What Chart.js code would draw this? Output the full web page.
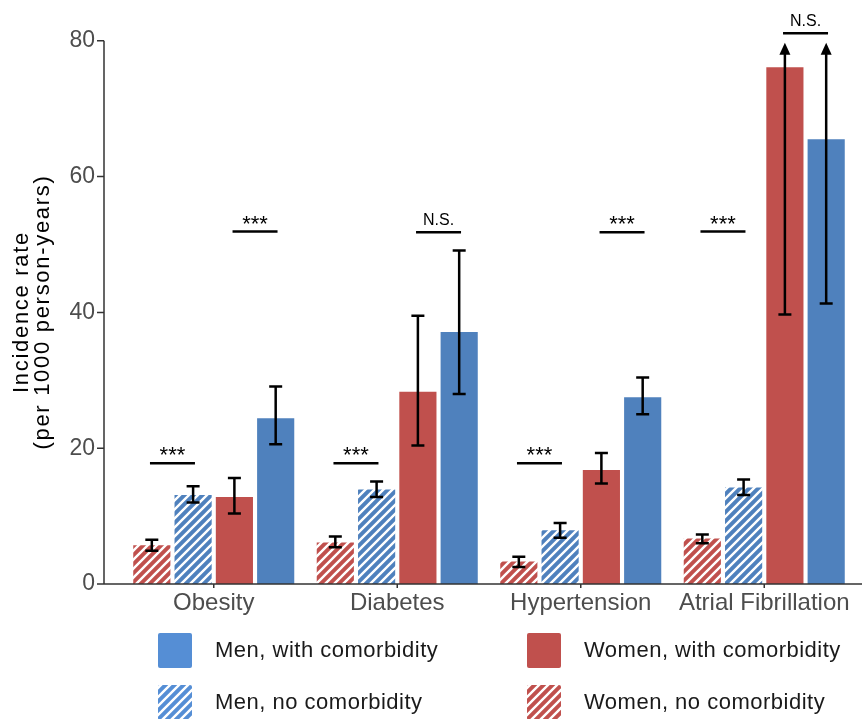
<!DOCTYPE html>
<html>
<head>
<meta charset="utf-8">
<title>Incidence rate by comorbidity</title>
<script src="https://cdn.jsdelivr.net/npm/chart.js@4.4.1/dist/chart.umd.min.js"></script>
<style>
  html, body { margin: 0; padding: 0; background: #fff; }
  #wrap { width: 862px; height: 719px; position: relative; }
</style>
</head>
<body>
<div id="wrap"><canvas id="chart"></canvas></div>
<script>
// Categories and values (per 1000 person-years)
const categories = ['Obesity', 'Diabetes', 'Hypertension', 'Atrial Fibrillation'];

const womenNo = [5.7, 6.1, 3.3, 6.7];
const womenNoLow = [4.9, 5.4, 2.5, 6.0];
const womenNoHigh = [6.5, 7.0, 4.0, 7.3];

const menNo = [13.1, 13.9, 7.9, 14.2];
const menNoLow = [12.0, 12.8, 6.8, 13.1];
const menNoHigh = [14.4, 15.1, 9.0, 15.4];

const womenWith = [12.8, 28.3, 16.8, 76.1];
const womenWithLow = [10.4, 20.4, 14.8, 39.7];
const womenWithHigh = [15.6, 39.5, 19.3, null]; // null = beyond the axis, drawn as arrow

const menWith = [24.4, 37.1, 27.5, 65.5];
const menWithLow = [20.6, 28.0, 25.0, 41.3];
const menWithHigh = [29.1, 49.1, 30.4, null];

const yTicks = [0, 20, 40, 60, 80];

// significance brackets: category, first dataset of the pair, height, label
const bracketCategory = [0, 0, 1, 1, 2, 2, 3, 3];
const bracketPair = [0, 2, 0, 2, 0, 2, 0, 2];
const bracketValue = [17.8, 51.9, 17.8, 51.8, 17.8, 51.8, 51.9, 81.1];
const bracketLabel = ['***', '***', '***', 'N.S.', '***', '***', '***', 'N.S.'];

const legendLabels = ['Men, with comorbidity', 'Women, with comorbidity', 'Men, no comorbidity', 'Women, no comorbidity'];

const RED = '#C0504D';
const BLUE = '#4F81BD';
const LEGEND_BLUE = '#558ED5';
const FONT = '"Liberation Sans", Arial, sans-serif';

// diagonal white stripes on a coloured tile
function makeHatch(color) {
    const s = 9;
    const c = document.createElement('canvas');
    c.width = s; c.height = s;
    const g = c.getContext('2d');
    g.fillStyle = color;
    g.fillRect(0, 0, s, s);
    g.strokeStyle = '#ffffff';
    g.lineWidth = 2.4;
    g.beginPath();
    g.moveTo(-1, 1); g.lineTo(1, -1);
    g.moveTo(0, s); g.lineTo(s, 0);
    g.moveTo(s - 1, s + 1); g.lineTo(s + 1, s - 1);
    g.stroke();
    return g.createPattern(c, 'repeat');
}

Chart.defaults.font.family = FONT;

const overlay = {
    id: 'overlay',
    afterDatasetsDraw(chart) {
        const ctx = chart.ctx;
        const x = chart.scales.x, y = chart.scales.y, area = chart.chartArea;
        ctx.save();

        // axis lines and ticks
        ctx.strokeStyle = '#333333';
        ctx.lineWidth = 1.5;
        ctx.beginPath();
        ctx.moveTo(104, y.getPixelForValue(80));
        ctx.lineTo(104, area.bottom);
        ctx.lineTo(862, area.bottom);
        yTicks.forEach(v => {
            const py = y.getPixelForValue(v);
            ctx.moveTo(97, py); ctx.lineTo(104, py);
        });
        categories.forEach((c, i) => {
            const px = x.getPixelForValue(i);
            ctx.moveTo(px, area.bottom); ctx.lineTo(px, area.bottom + 4);
        });
        ctx.stroke();

        // error bars
        ctx.strokeStyle = '#000000';
        ctx.fillStyle = '#000000';
        ctx.lineWidth = 2.5;
        chart.data.datasets.forEach((ds, di) => {
            const meta = chart.getDatasetMeta(di);
            meta.data.forEach((bar, i) => {
                const cx = bar.x;
                const lo = y.getPixelForValue(ds.errLow[i]);
                ctx.beginPath();
                ctx.moveTo(cx - 6.5, lo); ctx.lineTo(cx + 6.5, lo);
                if (ds.errHigh[i] === null) {
                    const tip = y.getPixelForValue(y.max) + 2;
                    ctx.moveTo(cx, lo); ctx.lineTo(cx, tip + 10);
                    ctx.stroke();
                    ctx.beginPath();
                    ctx.moveTo(cx, tip);
                    ctx.lineTo(cx - 5.5, tip + 12);
                    ctx.lineTo(cx + 5.5, tip + 12);
                    ctx.closePath();
                    ctx.fill();
                } else {
                    const hi = y.getPixelForValue(ds.errHigh[i]);
                    ctx.moveTo(cx, lo); ctx.lineTo(cx, hi);
                    ctx.moveTo(cx - 6.5, hi); ctx.lineTo(cx + 6.5, hi);
                    ctx.stroke();
                }
            });
        });

        // significance brackets
        ctx.textAlign = 'center';
        ctx.textBaseline = 'alphabetic';
        bracketCategory.forEach((cat, k) => {
            const a = chart.getDatasetMeta(bracketPair[k]).data[cat].x;
            const b = chart.getDatasetMeta(bracketPair[k] + 1).data[cat].x;
            const mid = (a + b) / 2;
            const py = y.getPixelForValue(bracketValue[k]);
            ctx.beginPath();
            ctx.moveTo(mid - 22.5, py); ctx.lineTo(mid + 22.5, py);
            ctx.stroke();
            if (bracketLabel[k] === '***') {
                ctx.font = '22px ' + FONT;
                ctx.fillText(bracketLabel[k], mid, py - 1);
            } else {
                ctx.font = '16px ' + FONT;
                ctx.fillText(bracketLabel[k], mid, py - 7);
            }
        });
        ctx.restore();
    },
    afterDraw(chart) {
        const ctx = chart.ctx;
        ctx.save();

        // y axis title, two lines
        ctx.fillStyle = '#000000';
        ctx.font = '22px ' + FONT;
        ctx.letterSpacing = '1.7px';
        ctx.textAlign = 'center';
        ctx.textBaseline = 'middle';
        [['Incidence rate', 22], ['(per 1000 person-years)', 43]].forEach(([t, px]) => {
            ctx.save();
            ctx.translate(px, 312);
            ctx.rotate(-Math.PI / 2);
            ctx.fillText(t, 0, 0);
            ctx.restore();
        });

        // legend, 2 x 2
        const fills = [LEGEND_BLUE, RED, makeHatch(LEGEND_BLUE), makeHatch(RED)];
        const colX = [158, 527];
        const rowY = [633, 685];
        ctx.textAlign = 'left';
        ctx.font = '22px ' + FONT;
        ctx.letterSpacing = '0.5px';
        legendLabels.forEach((label, k) => {
            const sx = colX[k % 2], sy = rowY[Math.floor(k / 2)];
            ctx.fillStyle = fills[k];
            ctx.beginPath();
            ctx.roundRect(sx, sy, 34, 35, 2);
            ctx.fill();
            ctx.fillStyle = '#1a1a1a';
            ctx.fillText(label, sx + 57, sy + 18);
        });
        ctx.restore();
    }
};

const ctx = document.getElementById('chart').getContext('2d');
new Chart(ctx, {
    type: 'bar',
    data: {
        labels: categories,
        datasets: [
            { label: 'Women, no comorbidity', data: womenNo, errLow: womenNoLow, errHigh: womenNoHigh, backgroundColor: makeHatch(RED) },
            { label: 'Men, no comorbidity', data: menNo, errLow: menNoLow, errHigh: menNoHigh, backgroundColor: makeHatch(BLUE) },
            { label: 'Women, with comorbidity', data: womenWith, errLow: womenWithLow, errHigh: womenWithHigh, backgroundColor: RED },
            { label: 'Men, with comorbidity', data: menWith, errLow: menWithLow, errHigh: menWithHigh, backgroundColor: BLUE }
        ]
    },
    options: {
        responsive: true,
        maintainAspectRatio: false,
        animation: false,
        datasets: {
            bar: { categoryPercentage: 0.9, barPercentage: 0.9, borderWidth: 0 }
        },
        layout: { padding: { top: 38, right: 6, left: 0, bottom: 0 } },
        scales: {
            x: {
                offset: true,
                grid: { display: false, drawTicks: false },
                border: { display: false },
                ticks: { font: { size: 24 }, color: '#4d4d4d', padding: 5, maxRotation: 0, autoSkip: false },
                afterFit: function(scale) { scale.height = 135; }
            },
            y: {
                min: 0,
                max: 80,
                grid: { display: false, drawTicks: false },
                border: { display: false },
                ticks: { stepSize: 20, font: { size: 23 }, color: '#4d4d4d', padding: 27 },
                afterBuildTicks: function(scale) { scale.ticks = yTicks.map(v => ({ value: v })); },
                afterFit: function(scale) { scale.width = 122; }
            }
        },
        plugins: {
            legend: { display: false },
            tooltip: { enabled: false }
        }
    },
    plugins: [overlay]
});
</script>
</body>
</html>
